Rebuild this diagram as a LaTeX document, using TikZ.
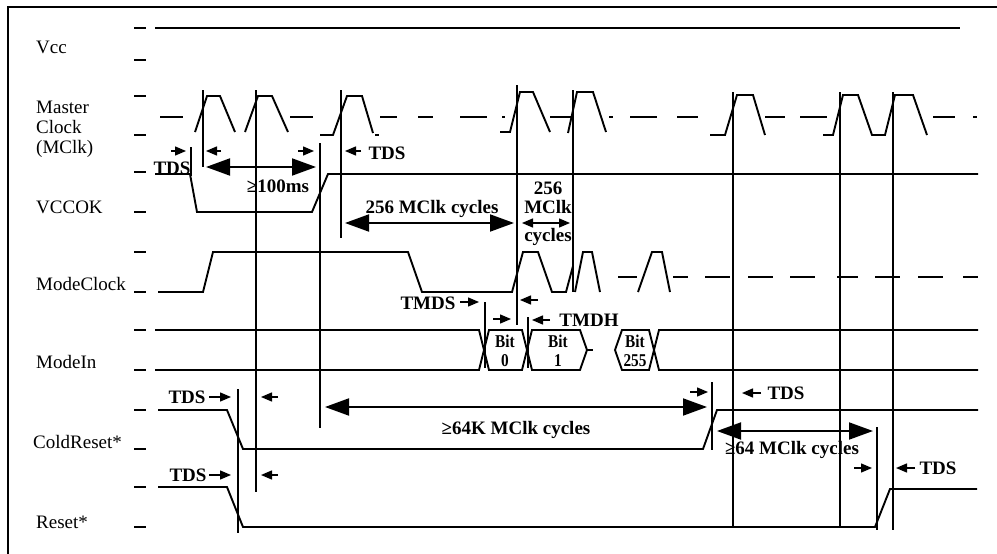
\documentclass[tikz,border=0pt]{standalone}
\usepackage{fontspec}
\setmainfont{Liberation Serif}
\newfontfamily\condf[FakeStretch=0.85]{Liberation Serif Bold}
\usetikzlibrary{arrows.meta}
\begin{document}
\begin{tikzpicture}[x=1pt,y=-1pt,
  sig/.style={line width=1.9pt,line join=miter},
  big/.style={line width=1.9pt,{Triangle[length=24pt,width=17pt]}-{Triangle[length=24pt,width=17pt]}},
  sm/.style={line width=1.4pt,-{Triangle[length=11pt,width=9pt]}},
  smd/.style={line width=1.4pt,{Triangle[length=11pt,width=9pt]}-{Triangle[length=11pt,width=9pt]}},
  lab/.style={font=\fontsize{19}{20}\selectfont, anchor=base west, inner sep=0},
  ann/.style={font=\bfseries\fontsize{19}{20}\selectfont, inner sep=0},
  bit/.style={font=\condf\fontsize{18}{19}\selectfont, inner sep=0, align=center},
  stack/.style={font=\bfseries\fontsize{19}{19}\selectfont, inner sep=0, align=center},
]
\useasboundingbox (0,0) rectangle (997,554);
% frame
\draw[line width=1.9pt] (997,7) -- (8,7) -- (8,554);
% ticks
\foreach \y in {28,60,96,135,172,212,252,292,330,370,410,449,487,527}
  \draw[sig] (134,\y) -- (146,\y);
% labels
\node[lab] (lvcc) at (36,53) {Vcc};
\node[lab] (lm1) at (36,113) {Master};
\node[lab] (lm2) at (36,133) {Clock};
\node[lab] (lm3) at (36,153) {(MClk)};
\node[lab] (lvok) at (36,213) {VCCOK};
\node[lab] (lmc) at (36,290) {ModeClock};
\node[lab] (lmi) at (36,368) {ModeIn};
\node[lab] (lcr) at (33,448) {ColdReset*};
\node[lab] (lrs) at (36,528) {Reset*};
% Vcc
\draw[sig] (155,28) -- (960,28);
% Master clock
\draw[sig] (160,117)--(183,117);
\draw[sig] (195,132)--(207,96)--(220,96)--(235,132);
\draw[sig] (245,132)--(258,96)--(272,96)--(288,132);
\draw[sig] (290,117)--(313,117);
\draw[sig] (320,135)--(333,135)--(347,96)--(362,96)--(373,133);
\draw[sig] (375,135)--(379,135);
\foreach \a/\b in {380/397,418/433,460/487,502/505,550/572,609/613,630/657,677/698,765/785,800/827,933/955,973/977}
  \draw[sig] (\a,117)--(\b,117);
\draw[sig] (500,132)--(510,132)--(520,92)--(533,92)--(550,132);
\draw[sig] (568,133)--(577,92)--(593,92)--(606,132);
\draw[sig] (710,135)--(725,135)--(737,95)--(753,95)--(765,135);
\draw[sig] (823,135)--(833,135)--(843,95)--(858,95)--(872,135)--(885,135)--(895,95)--(913,95)--(927,135);
% VCCOK
\draw[sig] (155,174)--(190,174)--(197,212)--(312,212)--(328,174)--(978,174);
% ModeClock
\draw[sig] (158,292)--(203,292)--(213,252)--(408,252)--(422,292)--(512,292)--(523,252)--(538,252)--(552,292)--(566,292)--(573,266);
\draw[sig] (575,292)--(583,252)--(592,252)--(600,292);
\draw[sig] (638,292)--(652,252)--(662,252)--(670,292);
\foreach \a/\b in {618/637,673/688,705/730,748/773,790/815,837/858,875/900,918/943,963/978}
  \draw[sig] (\a,277)--(\b,277);
% ModeIn bus
\draw[sig] (155,330)--(479,330)--(489,370)--(522,370)--(532,330)--(580,330)--(587,350)--(580,370)--(532,370)--(522,330)--(489,330)--(479,370)--(155,370);
\draw[sig] (587,350)--(593,350);
\draw[sig] (978,330)--(659,330)--(649,370)--(622,370)--(615,350)--(622,330)--(649,330)--(659,370)--(978,370);
\node[bit] (b0) at (505,351) {Bit\\0};
\node[bit] (b1) at (558,351) {Bit\\1};
\node[bit] (b2) at (635,351) {Bit\\255};
% ColdReset*
\draw[sig] (158,410)--(227,410)--(243,449)--(703,449)--(717,410)--(978,410);
% Reset*
\draw[sig] (158,487)--(227,487)--(243,527)--(875,527)--(890,489)--(977,489);
% vertical markers
\draw[sig] (191,147)--(191,176);
\draw[sig] (203,90)--(203,167);
\draw[sig] (256,90)--(256,492);
\draw[sig] (320,143)--(320,428);
\draw[sig] (341,90)--(341,238);
\draw[sig] (517,85)--(517,325);
\draw[sig] (573,90)--(573,292);
\draw[sig] (733,92)--(733,527);
\draw[sig] (840,92)--(840,527);
\draw[sig] (893,92)--(893,530);
\draw[sig] (485,302)--(485,368);
\draw[sig] (528,317)--(528,368);
\draw[sig] (238,389)--(238,533);
\draw[sig] (712,382)--(712,450);
\draw[sig] (877,427)--(877,530);
% annotations: TDS at start
\draw[sm] (171,151)--(186,151);
\draw[sm] (221,151)--(206,151);
\node[ann] (t1) at (172,168) {TDS};
\draw[big] (206,167)--(316,167);
\node[ann] (t100) at (278,186) {≥100ms};
\draw[sm] (298,151)--(314,151);
\draw[sm] (361,151)--(345,151);
\node[ann] (t2) at (387,153) {TDS};
% 256 MClk cycles
\draw[big] (345,223)--(514,223);
\node[ann] (c256) at (432,209) {256 MClk cycles};
\node[stack] (s12) at (548,198) {256\\MClk};
\node[ann] (s3) at (548,237) {cycles};
\draw[smd] (522,223)--(570,223);
% TMDS / TMDH
\node[ann] (tmds) at (428,303) {TMDS};
\draw[sm] (460,302)--(479,302);
\draw[sm] (538,300)--(520,300);
\draw[sm] (493,319)--(511,319);
\draw[sm] (550,320)--(532,320);
\node[ann] (tmdh) at (589,320) {TMDH};
% ColdReset / Reset TDS
\node[ann] (t3) at (187,397) {TDS};
\draw[sm] (209,397)--(231,397);
\draw[sm] (278,397)--(261,397);
\node[ann] (t4) at (188,475) {TDS};
\draw[sm] (209,475)--(231,475);
\draw[sm] (278,475)--(261,475);
% 64K
\draw[big] (325,407)--(707,407);
\node[ann] (c64k) at (516,430) {≥64K MClk cycles};
\draw[sm] (690,392)--(708,392);
\draw[sm] (761,393)--(742,393);
\node[ann] (t5) at (786,393) {TDS};
% 64
\draw[big] (717,431)--(873,431);
\node[ann] (c64) at (792,450) {≥64 MClk cycles};
\draw[sm] (854,468)--(872,468);
\draw[sm] (915,468)--(896,468);
\node[ann] (t6) at (938,468) {TDS};
\end{tikzpicture}
\end{document}
